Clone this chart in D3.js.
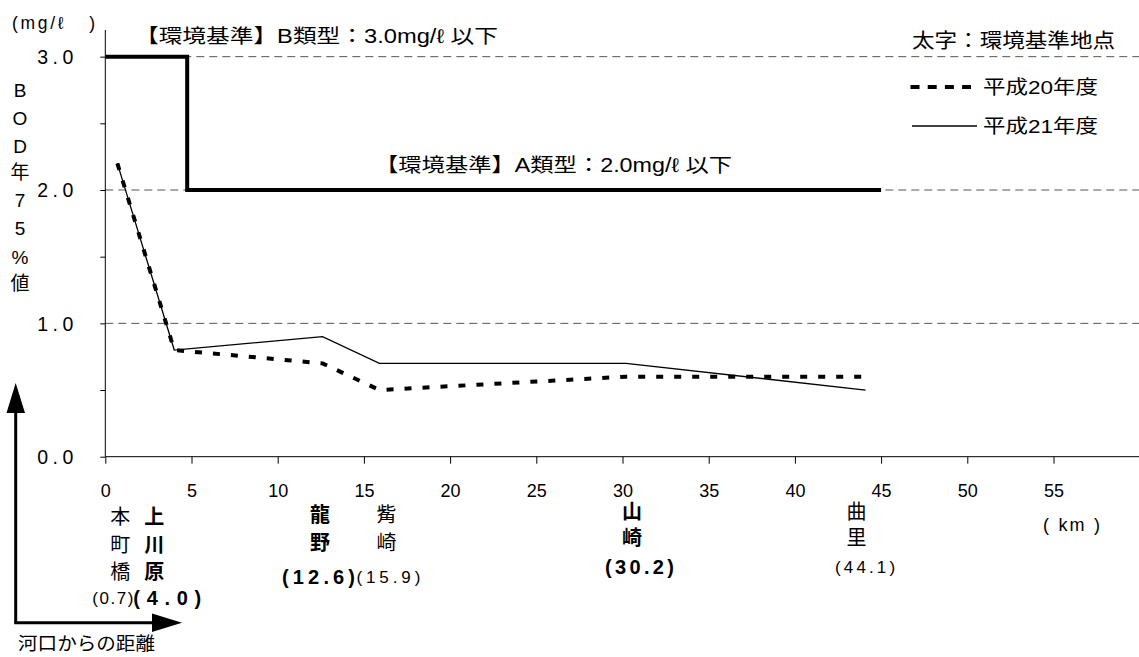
<!DOCTYPE html>
<html>
<head>
<meta charset="utf-8">
<script src="https://cdn.jsdelivr.net/npm/d3@7"></script>
<style>
  html, body { margin: 0; padding: 0; background: #fff; }
  svg { display: block; }
  text { font-family: "Liberation Sans", "Noto Sans CJK JP", sans-serif; fill: #000; }
</style>
</head>
<body>
<svg id="chart" width="1139" height="657"></svg>
<script>
// ---------------- data ----------------
const stationNames = ["本町橋", "上川原", "龍野", "觜崎", "山崎", "曲里"];
const stationKm    = [0.7, 4.0, 12.6, 15.9, 30.2, 44.1];
const stationKmLabels = ["(0.7)", "(4.0)", "(12.6)", "(15.9)", "(30.2)", "(44.1)"];
const stationIsStandardPoint = [false, true, true, false, true, false];
const h20 = [2.2, 0.8, 0.7, 0.5, 0.6, 0.6];
const h21 = [2.2, 0.8, 0.9, 0.7, 0.7, 0.5];
const seriesNames = ["平成20年度", "平成21年度"];
const standardKm  = [0, 4.75, 4.75, 45];
const standardVal = [3.0, 3.0, 2.0, 2.0];
const standardLabels = ["【環境基準】B類型：3.0mg/ℓ 以下", "【環境基準】A類型：2.0mg/ℓ 以下"];
const xTicks = [0, 5, 10, 15, 20, 25, 30, 35, 40, 45, 50, 55, 60];
const yTicks = [0, 0.5, 1.0, 1.5, 2.0, 2.5, 3.0];
const gridValues = [1.0, 2.0, 3.0];
const yTitleChars = ["B", "O", "D", "年", "7", "5", "%", "値"];

// ---------------- layout (label placement only) ----------------
const nameDx   = [3, -20, -2.5, 7, 6, -9];
const parenDx  = [-4.5, -7, -4, 9, 13.5, -0.5];
const parenLen = [41, 68, 73, 64, 69, 60];
const rowY     = [[517, 545, 572, 598], [517, 545, 572, 598], [515, 543, 577], [515, 543, 577], [512, 538, 567], [512, 538, 567]];

const svg = d3.select("#chart");
const x = d3.scaleLinear().domain([0, 60]).range([105.3, 1139.7]);
const y = d3.scaleLinear().domain([0, 3.2]).range([456.7, 30]);

// gridlines
svg.append("g").selectAll("line").data(gridValues).join("line")
  .attr("x1", x(0)).attr("x2", 1139)
  .attr("y1", d => y(d)).attr("y2", d => y(d))
  .attr("stroke", "#555").attr("stroke-width", 1).attr("stroke-dasharray", "8,5");

// x axis
const xAxis = svg.append("g").attr("transform", `translate(0,${y(0)})`)
  .call(d3.axisBottom(x).tickValues(xTicks).tickSize(7).tickFormat(d => d === 60 ? "" : d));
xAxis.select(".domain").attr("stroke", "#000").attr("d", `M${x(0)},0H1139`);
xAxis.selectAll(".tick line").attr("stroke", "#000");
xAxis.selectAll(".tick text").attr("y", 34).attr("dy", "0.35em")
  .style("font-size", "18px").style("font-family", "Liberation Sans, sans-serif");

// y axis
const yAxis = svg.append("g").attr("transform", `translate(${x(0)},0)`)
  .call(d3.axisLeft(y).tickValues(yTicks).tickSize(5).tickFormat(d => (Math.abs(d % 1) < 1e-9) ? d.toFixed(1) : ""));
yAxis.select(".domain").attr("stroke", "#000").attr("d", `M0,${y(3.2)}V${y(0)}`);
yAxis.selectAll(".tick line").attr("stroke", "#000");
yAxis.selectAll(".tick text")
  .attr("x", -68).attr("dy", "0.35em").attr("text-anchor", "start")
  .attr("textLength", 36).attr("lengthAdjust", "spacing")
  .style("font-size", "19.5px").style("font-family", "Liberation Sans, sans-serif");

// environmental standard thick line
const stdPts = standardKm.map((k, i) => [k, standardVal[i]]);
svg.append("path").datum(stdPts)
  .attr("d", d3.line().x(d => x(d[0])).y(d => y(d[1])))
  .attr("fill", "none").attr("stroke", "#000").attr("stroke-width", 4)
  .attr("stroke-linejoin", "miter");

// standard labels
svg.append("text").attr("x", 135).attr("y", 36.3).attr("dominant-baseline", "central")
  .attr("textLength", 363).attr("lengthAdjust", "spacingAndGlyphs").style("font-size", "19.5px")
  .text(standardLabels[0]);
svg.append("text").attr("x", 375).attr("y", 164.7).attr("dominant-baseline", "central")
  .attr("textLength", 357).attr("lengthAdjust", "spacingAndGlyphs").style("font-size", "19.5px")
  .text(standardLabels[1]);

// series
const line = d3.line().x(d => x(d[0])).y(d => y(d[1]));
svg.append("path").datum(stationKm.map((k, i) => [k, h21[i]]))
  .attr("d", line).attr("fill", "none").attr("stroke", "#000").attr("stroke-width", 1.3);
svg.append("path").datum(stationKm.map((k, i) => [k, h20[i]]))
  .attr("d", line).attr("fill", "none").attr("stroke", "#000").attr("stroke-width", 4)
  .attr("stroke-dasharray", "7,11");

// legend
svg.append("text").attr("x", 912).attr("y", 41).attr("dominant-baseline", "central")
  .attr("textLength", 203).attr("lengthAdjust", "spacingAndGlyphs").style("font-size", "20px")
  .text("太字：環境基準地点");
svg.append("line").attr("x1", 910.5).attr("x2", 971).attr("y1", 87).attr("y2", 87)
  .attr("stroke", "#000").attr("stroke-width", 4).attr("stroke-dasharray", "9,8.2");
svg.append("line").attr("x1", 912).attr("x2", 977).attr("y1", 126).attr("y2", 126)
  .attr("stroke", "#000").attr("stroke-width", 1.3);
[87, 126].forEach((yy, i) => {
  svg.append("text").attr("x", 983).attr("y", yy).attr("dominant-baseline", "central")
    .attr("textLength", 115).attr("lengthAdjust", "spacingAndGlyphs").style("font-size", "19px")
    .text(seriesNames[i]);
});

// units
svg.append("text").attr("x", 12).attr("y", 22.7).attr("dominant-baseline", "central")
  .attr("textLength", 83).attr("lengthAdjust", "spacing").style("font-size", "17.5px")
  .style("white-space", "pre").attr("xml:space", "preserve")
  .text("(mg/ℓ   )");
svg.append("text").attr("x", 1043).attr("y", 525).attr("dominant-baseline", "central")
  .attr("textLength", 57).attr("lengthAdjust", "spacing").style("font-size", "18px")
  .style("white-space", "pre").attr("xml:space", "preserve")
  .text("( km )");

// y title (vertical)
const yTitleY = [90, 118, 146, 172, 200, 228, 257, 283];
svg.append("g").selectAll("text").data(yTitleChars).join("text")
  .attr("x", 20).attr("y", (d, i) => yTitleY[i]).attr("text-anchor", "middle")
  .attr("dominant-baseline", "central").style("font-size", "19px").text(d => d);

// station labels
stationNames.forEach((name, i) => {
  const g = svg.append("g").style("font-weight", stationIsStandardPoint[i] ? "bold" : "normal");
  const cx = x(stationKm[i]) + nameDx[i];
  const chars = Array.from(name);
  chars.forEach((c, j) => {
    g.append("text").attr("x", cx).attr("y", rowY[i][j]).attr("text-anchor", "middle")
      .attr("dominant-baseline", "central").style("font-size", "20px").text(c);
  });
  const px = x(stationKm[i]) + parenDx[i];
  g.append("text").attr("x", px - parenLen[i] / 2).attr("y", rowY[i][chars.length])
    .attr("dominant-baseline", "central")
    .attr("textLength", parenLen[i]).attr("lengthAdjust", "spacing")
    .style("font-size", stationIsStandardPoint[i] ? "20px" : "17px")
    .text(stationKmLabels[i]);
});

// distance arrows
const arrows = svg.append("g");
arrows.append("path").attr("d", "M15.7,623 V405").attr("stroke", "#000").attr("stroke-width", 3).attr("fill", "none");
arrows.append("path").attr("d", "M15.7,383 L6.5,413 L25,413 Z").attr("fill", "#000");
arrows.append("path").attr("d", "M14.2,622.7 H155").attr("stroke", "#000").attr("stroke-width", 3).attr("fill", "none");
arrows.append("path").attr("d", "M182,622.7 L152,613.5 L152,632 Z").attr("fill", "#000");
svg.append("text").attr("x", 18).attr("y", 643).attr("dominant-baseline", "central")
  .attr("textLength", 137).attr("lengthAdjust", "spacingAndGlyphs").style("font-size", "18.5px")
  .text("河口からの距離");
</script>
</body>
</html>
